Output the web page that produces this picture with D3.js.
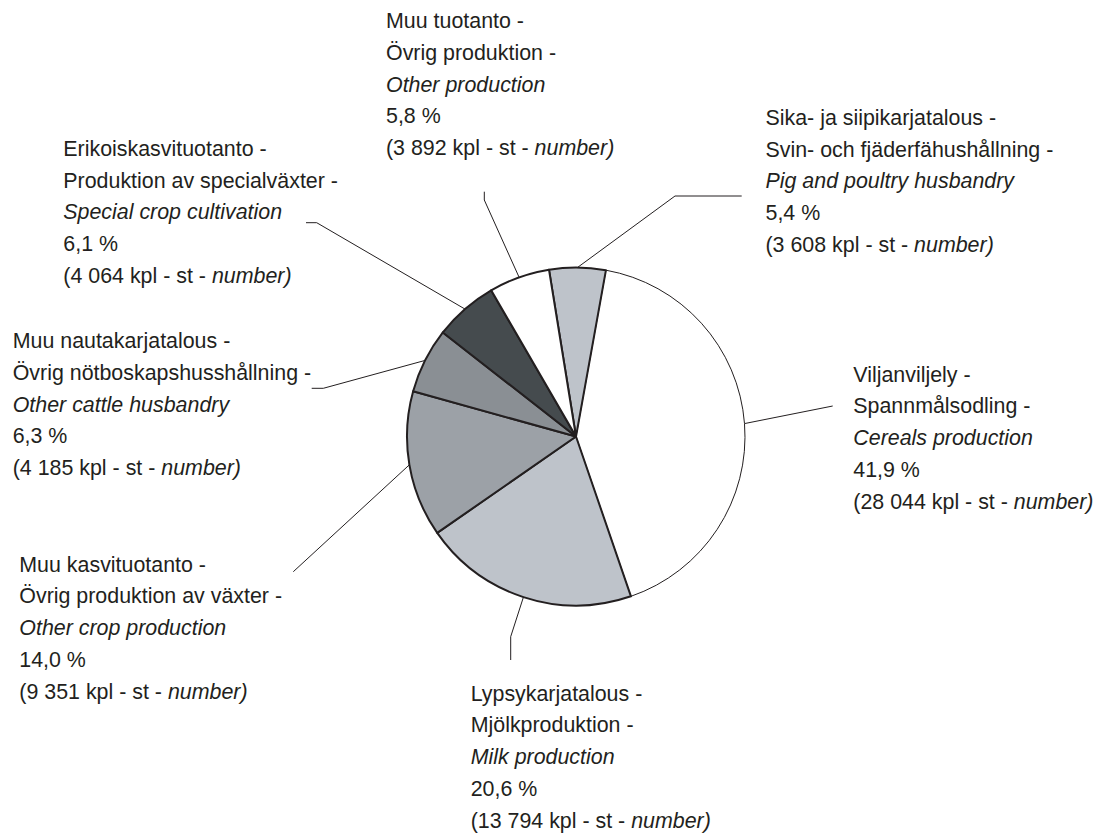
<!DOCTYPE html>
<html>
<head>
<meta charset="utf-8">
<script src="https://cdnjs.cloudflare.com/ajax/libs/d3/7.8.5/d3.min.js"></script>
<style>
	html, body { margin: 0; padding: 0; background: #ffffff; }
	svg { display: block; }
</style>
</head>
<body>
<div class="pie"></div>
<script>

// ----------------------------------------------------------
// data (clockwise, starting from the small slice at the top)

var namesFi = ["Sika- ja siipikarjatalous -", "Viljanviljely -", "Lypsykarjatalous -",
	"Muu kasvituotanto -", "Muu nautakarjatalous -", "Erikoiskasvituotanto -", "Muu tuotanto -"];

var namesSv = ["Svin- och fjäderfähushållning -", "Spannmålsodling -", "Mjölkproduktion -",
	"Övrig produktion av växter -", "Övrig nötboskapshusshållning -", "Produktion av specialväxter -",
	"Övrig produktion -"];

var namesEn = ["Pig and poultry husbandry", "Cereals production", "Milk production",
	"Other crop production", "Other cattle husbandry", "Special crop cultivation", "Other production"];

var shares = [5.4, 41.9, 20.6, 14.0, 6.3, 6.1, 5.8];

var counts = [3608, 28044, 13794, 9351, 4185, 4064, 3892];

// ----------------------------------------------------------
// layout

var width = 1097,
	height = 835,
	cx = 576,
	cy = 436.5,
	radius = 169,
	lineH = 31.7,
	ink = "#231f20";

var fills = ["#bec3ca", "#ffffff", "#bec3ca", "#9ca1a7", "#8a8f94", "#454b4e", "#ffffff"];

// label block: x, first baseline, leader points after the arc point
var labelPos = [
	{x: 765.5, y: 125,   leader: [[675, 196], [741.7, 196]]},
	{x: 853.3, y: 381.7, leader: [[832.7, 406]]},
	{x: 470.7, y: 700.7, leader: [[510.7, 636.7], [510.7, 660]]},
	{x: 19.3,  y: 571.7, leader: [[293.3, 571.7]]},
	{x: 12.7,  y: 348.3, leader: [[323.3, 388.3], [311.7, 388.3]]},
	{x: 63.3,  y: 156,   leader: [[316.7, 222.7], [306, 222.7]]},
	{x: 386,   y: 28.3,  leader: [[484.3, 200], [484.3, 191.7]]}
];

var locale = d3.formatLocale({decimal: ",", thousands: " ", grouping: [3], currency: ["", ""]});
var fmtShare = locale.format(".1f"),
	fmtCount = locale.format(",d");

var svg = d3.select(".pie")
	.append("svg")
	.attr("width", width)
	.attr("height", height);

svg.append("rect")
	.attr("width", width)
	.attr("height", height)
	.attr("fill", "#ffffff");

var startAngle = -9.2 * Math.PI / 180;

var pie = d3.pie()
	.sort(null)
	.startAngle(startAngle)
	.endAngle(startAngle + 2 * Math.PI)
	.value(function(d) { return d; });

var slices = pie(counts);

var arc = d3.arc()
	.innerRadius(0)
	.outerRadius(radius);

var edgeArc = d3.arc()
	.innerRadius(radius)
	.outerRadius(radius);

// ----------------------------------------------------------
// leader lines (drawn under the pie)

var line = d3.line();

svg.append("g")
	.attr("transform", "translate(" + cx + "," + cy + ")")
	.selectAll("path")
	.data(slices)
	.enter().append("path")
	.attr("d", function(d, i) {
		var p = edgeArc.centroid(d);
		var pts = [p].concat(labelPos[i].leader.map(function(q) { return [q[0] - cx, q[1] - cy]; }));
		return line(pts);
	})
	.attr("fill", "none")
	.attr("stroke", ink)
	.attr("stroke-width", 1);

// ----------------------------------------------------------
// slices (the big white one first, so its neighbours' edges sit on top)

var order = d3.range(slices.length).sort(function(a, b) {
	return (a === 1 ? -1 : 0) - (b === 1 ? -1 : 0);
});

svg.append("g")
	.attr("transform", "translate(" + cx + "," + cy + ")")
	.selectAll("path")
	.data(order.map(function(i) { return {s: slices[i], i: i}; }))
	.enter().append("path")
	.attr("d", function(d) { return arc(d.s); })
	.attr("fill", function(d) { return fills[d.i]; })
	.attr("stroke", ink)
	.attr("stroke-width", function(d) { return d.i === 1 ? 1 : 2; })
	.attr("stroke-linejoin", "round");

// ----------------------------------------------------------
// labels

var labels = svg.selectAll(".label")
	.data(slices)
	.enter().append("text")
	.attr("class", "label")
	.attr("font-family", "'Liberation Sans', Arial, sans-serif")
	.attr("font-size", "21.4px")
	.style("fill", ink);

labels.each(function(d, i) {
	var t = d3.select(this),
		p = labelPos[i];

	t.append("tspan").attr("x", p.x).attr("y", p.y).text(namesFi[i]);
	t.append("tspan").attr("x", p.x).attr("y", p.y + lineH).text(namesSv[i]);
	t.append("tspan").attr("x", p.x).attr("y", p.y + 2 * lineH)
		.attr("font-style", "italic").text(namesEn[i]);
	t.append("tspan").attr("x", p.x).attr("y", p.y + 3 * lineH).text(fmtShare(shares[i]) + " %");

	var last = t.append("tspan").attr("x", p.x).attr("y", p.y + 4 * lineH);
	last.append("tspan").text("(" + fmtCount(counts[i]) + " kpl - st - ");
	last.append("tspan").attr("font-style", "italic").text("number)");
});

</script>
</body>
</html>
